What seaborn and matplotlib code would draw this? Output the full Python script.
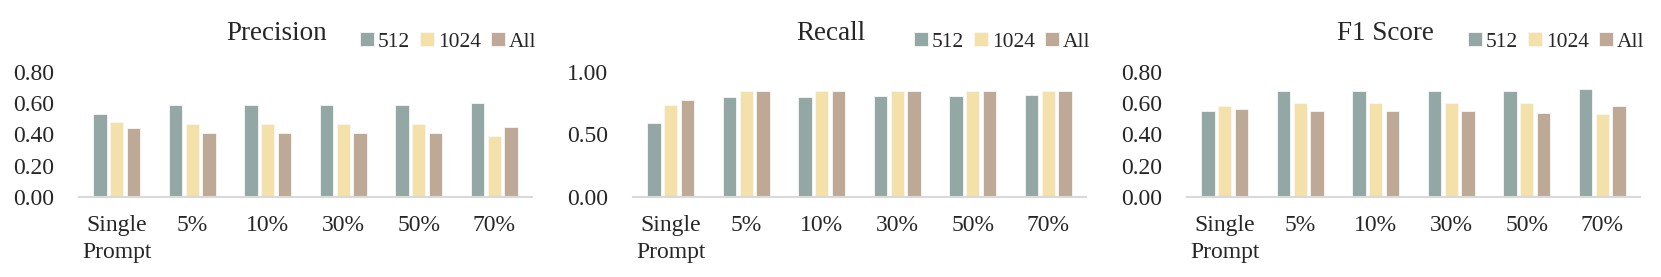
import numpy as np
import pandas as pd
import matplotlib
matplotlib.use("Agg")
import matplotlib.pyplot as plt
import seaborn as sns

# ── Data ─────────────────────────────────────────────────────────────────────
settings = ["Single\nPrompt", "5%", "10%", "30%", "50%", "70%"]
windows = ["512", "1024", "All"]

precision_512 = [0.53, 0.59, 0.59, 0.59, 0.59, 0.60]
precision_1024 = [0.48, 0.47, 0.47, 0.47, 0.47, 0.39]
precision_all = [0.44, 0.41, 0.41, 0.41, 0.41, 0.45]

recall_512 = [0.59, 0.80, 0.80, 0.81, 0.81, 0.82]
recall_1024 = [0.74, 0.85, 0.85, 0.85, 0.85, 0.85]
recall_all = [0.78, 0.85, 0.85, 0.85, 0.85, 0.85]

f1_512 = [0.55, 0.68, 0.68, 0.68, 0.68, 0.69]
f1_1024 = [0.58, 0.60, 0.60, 0.60, 0.60, 0.53]
f1_all = [0.56, 0.55, 0.55, 0.55, 0.54, 0.58]

panels = [
    ("Precision", [precision_512, precision_1024, precision_all], 0.8, [0, 0.2, 0.4, 0.6, 0.8]),
    ("Recall", [recall_512, recall_1024, recall_all], 1.0, [0, 0.5, 1.0]),
    ("F1 Score", [f1_512, f1_1024, f1_all], 0.8, [0, 0.2, 0.4, 0.6, 0.8]),
]

colors = ["#93A8A5", "#F4E1A9", "#BEA997"]

sns.set_theme(style="white")
plt.rcParams["font.family"] = ["Liberation Serif", "DejaVu Serif"]

fig = plt.figure(figsize=(16.61, 2.77), dpi=100)
lefts = [79, 633, 1187]
W, H = 1661, 277

for (title, series, ymax, yticks), left in zip(panels, lefts):
    ax = fig.add_axes([left / W, (H - 197) / H, 453 / W, 125 / H])
    df = pd.DataFrame({
        "setting": np.repeat([settings], 3, axis=0).ravel(),
        "window": np.repeat(windows, len(settings)),
        "value": np.concatenate(series),
    })
    sns.barplot(data=df, x="setting", y="value", hue="window", order=settings,
                hue_order=windows, palette=colors, saturation=1, width=0.66, gap=0.2,
                edgecolor="#F7F7F7", linewidth=0.6, ax=ax)
    ax.set_xlim(-0.5, len(settings) - 0.5)
    ax.set_ylim(0, ymax)
    ax.set_yticks(yticks)
    ax.set_yticklabels([f"{t:.2f}" for t in yticks])
    ax.set_xlabel("")
    ax.set_ylabel("")
    for s in ["top", "right", "left"]:
        ax.spines[s].set_visible(False)
    ax.spines["bottom"].set_color("#D9D9D9")
    ax.spines["bottom"].set_linewidth(1.5)
    ax.tick_params(axis="y", length=0, pad=18, labelsize=17)
    ax.tick_params(axis="x", length=0, pad=13, labelsize=17)
    for lbl in ax.get_xticklabels():
        lbl.set_linespacing(1.35)
    ax.set_title(title, x=0.437, y=1.19, fontsize=19.5)
    ax.legend(loc="center left", bbox_to_anchor=(0.62, 1.24), ncol=3,
              frameon=False, fontsize=15.5, handlelength=0.65, handleheight=0.65,
              handletextpad=0.2, columnspacing=0.45, borderpad=0, borderaxespad=0)

fig.savefig("out.png", dpi=100)
